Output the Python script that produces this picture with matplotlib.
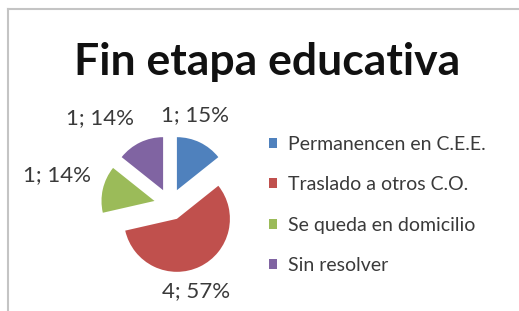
import matplotlib
matplotlib.use("Agg")
import matplotlib.pyplot as plt

# datos del grafico
categorias = ["Permanencen en C.E.E.", "Traslado a otros C.O.",
              "Se queda en domicilio", "Sin resolver"]
valores = [1, 4, 1, 1]
porcentajes = [15, 57, 14, 14]
colores = ["#4F81BD", "#C0504D", "#9BBB59", "#8064A2"]
titulo = "Fin etapa educativa"

W, H = 519, 311
plt.rcParams['font.family'] = ['Lato', 'DejaVu Sans']

fig = plt.figure(figsize=(W / 100, H / 100), dpi=100)

# capa de fondo en pixeles (y hacia abajo)
bg = fig.add_axes([0, 0, 1, 1])
bg.set_xlim(0, W)
bg.set_ylim(H, 0)
bg.axis("off")
bg.plot([8, W], [9, 9], color="#c4c4c4", lw=1.5)
bg.plot([8, 8], [9, H], color="#c4c4c4", lw=1.5)
bg.text(267, 75, titulo, fontsize=32, fontweight="bold",
        ha="center", va="baseline", color="#111111")

# tarta: centro (170, 204.5) px, radio 53 px
cx, cy, r = 170, 204.5, 53
span = 1.5
ax = fig.add_axes([(cx - span * r) / W, (H - cy - span * r) / H,
                   2 * span * r / W, 2 * span * r / H])
wedges, _ = ax.pie(valores, colors=colores, startangle=90, counterclock=False,
                   explode=[0.3] * len(valores), radius=1,
                   wedgeprops=dict(linewidth=0))
ax.set_xlim(-span, span)
ax.set_ylim(-span, span)
ax.axis("off")

# etiquetas de datos
pos_etiquetas = [(195, 115), (196, 291), (57, 175), (100, 118)]
for (x, y), v, p in zip(pos_etiquetas, valores, porcentajes):
    bg.text(x, y, f"{v}; {p}%", fontsize=16, ha="center", va="center",
            color="#3a3a3a")

fig.legend(wedges, categorias, loc="upper left",
           bbox_to_anchor=(251.5 / W, 1 - 118 / H), frameon=False,
           fontsize=14, handlelength=0.42, handleheight=0.42,
           handletextpad=0.55, labelspacing=1.21, labelcolor="#3a3a3a")

fig.savefig("out.png", dpi=100)
